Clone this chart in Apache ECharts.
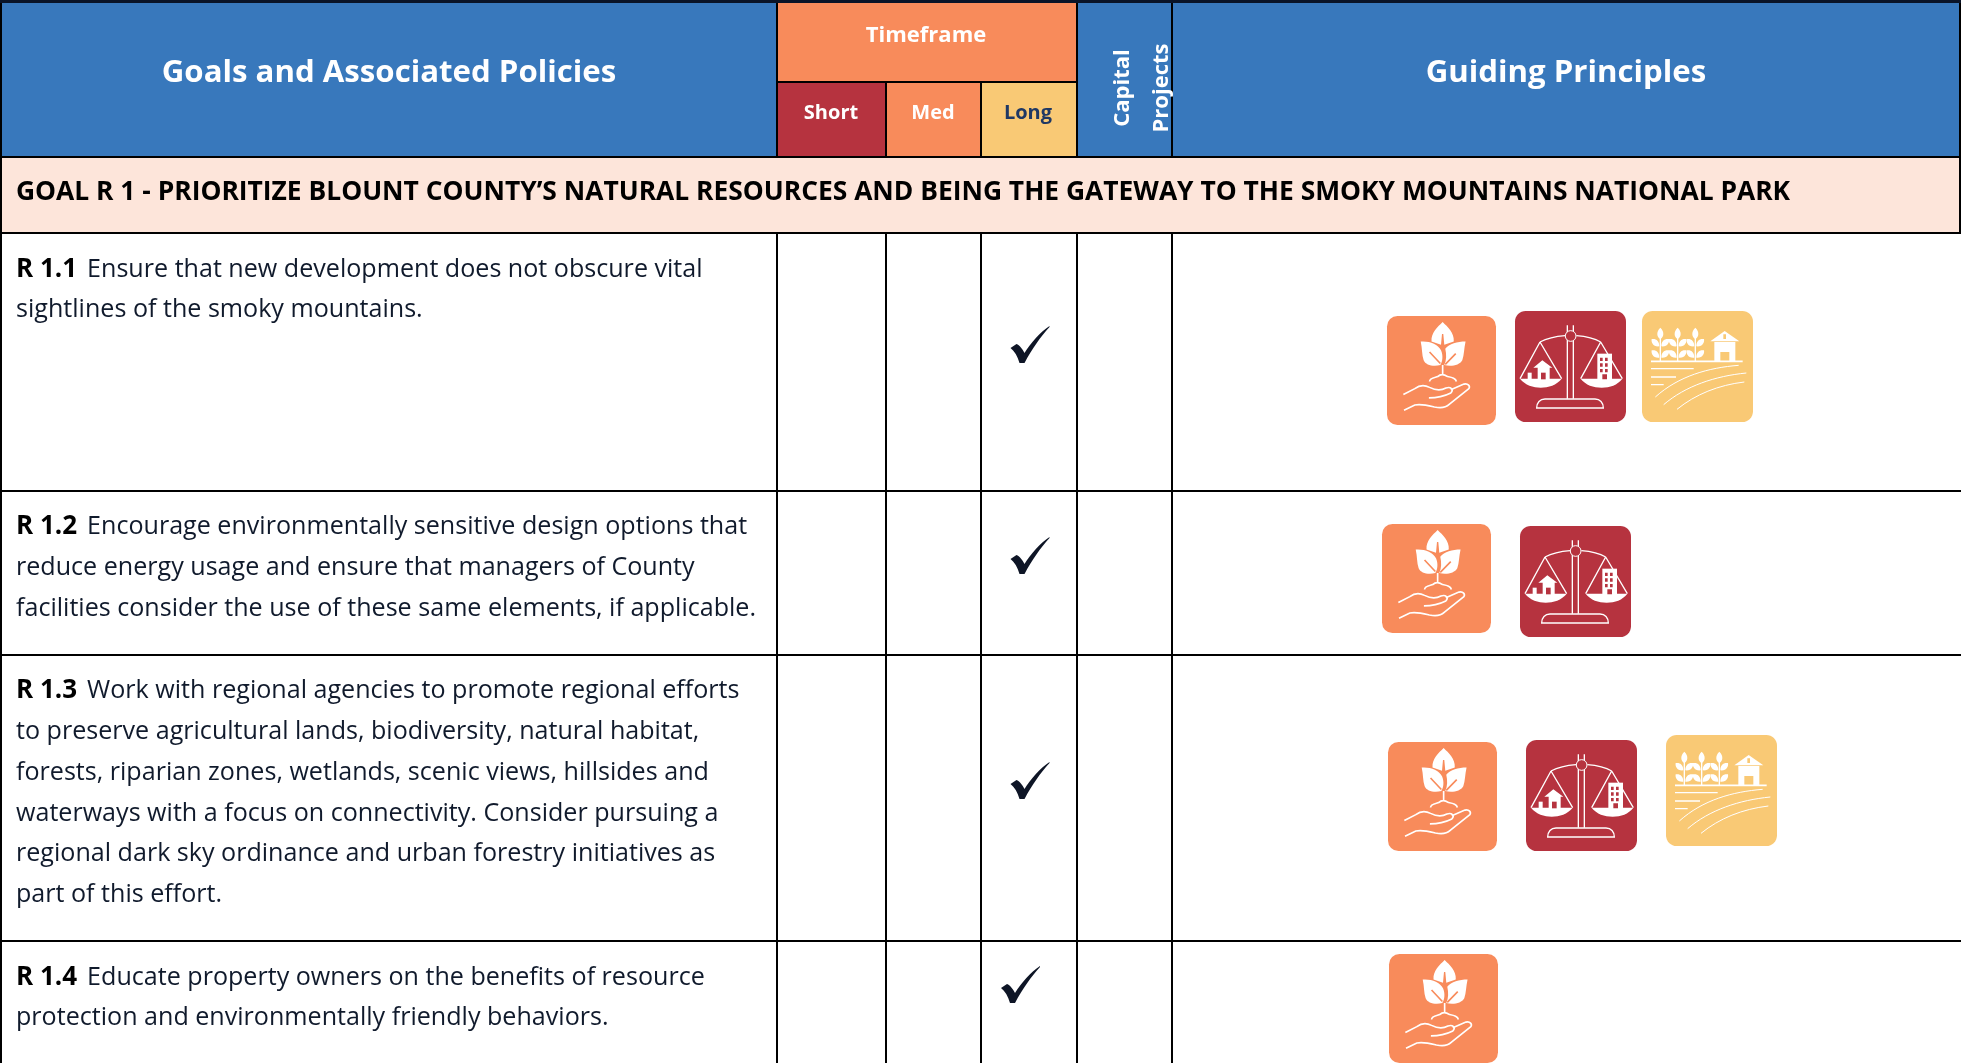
<!DOCTYPE html>
<html lang="en">
<head>
    <meta charset="UTF-8">
    <title>Goals and Associated Policies</title>
    <style>
        html, body { margin: 0; padding: 0; width: 100%; height: 100%; background: #fff; }
        #main { width: 1961px; height: 1063px; }
    </style>
</head>
<body>
    <div id="main"></div>
    <script src="https://cdn.jsdelivr.net/npm/echarts@6/dist/echarts.min.js"></script>
    <script>
        // table content
        var headerLeft = 'Goals and Associated Policies';
        var headerRight = 'Guiding Principles';
        var timeframeTitle = 'Timeframe';
        var timeframes = ['Short', 'Med', 'Long'];
        var capitalTitle = ['Capital', 'Projects'];
        var goalTitle = 'GOAL R 1 - PRIORITIZE BLOUNT COUNTY\u2019S NATURAL RESOURCES AND BEING THE GATEWAY TO THE SMOKY MOUNTAINS NATIONAL PARK';
        var policyLabels = ['R 1.1', 'R 1.2', 'R 1.3', 'R 1.4'];
        var policyLines = [
            ['Ensure that new development does not obscure vital', 'sightlines of the smoky mountains.'],
            ['Encourage environmentally sensitive design options that', 'reduce energy usage and ensure that managers of County', 'facilities consider the use of these same elements, if applicable.'],
            ['Work with regional agencies to promote regional efforts', 'to preserve agricultural lands, biodiversity, natural habitat,', 'forests, riparian zones, wetlands, scenic views, hillsides and', 'waterways with a focus on connectivity. Consider pursuing a', 'regional dark sky ordinance and urban forestry initiatives as', 'part of this effort.']
        ];
        policyLines.push(['Educate property owners on the benefits of resource', 'protection and environmentally friendly behaviors.']);
        var policyTimeframe = ['Long', 'Long', 'Long', 'Long'];
        var policyPrinciples = [
            ['environment', 'balance', 'rural'],
            ['environment', 'balance'],
            ['environment', 'balance', 'rural'],
            ['environment']
        ];

        // layout (px)
        var W = 1961, H = 1063;
        var colX = [2, 777, 886, 981, 1077, 1172, 1961];
        var rowY = [3, 157, 233, 491, 655, 941, 1063];
        var subHeaderY = 82;
        var lineStep = 40.8;
        var policyTextY = [269.5, 527, 691, 977.5];
        var checkPos = [[1010.5, 326], [1010.5, 537], [1010.5, 762], [1001, 966]];
        var iconPos = [
            [[1387, 316], [1515, 311], [1642, 311]],
            [[1382, 524], [1520, 526]],
            [[1388, 742], [1526, 740], [1666, 735]],
            [[1389, 954]]
        ];

        var BLUE = '#3878BC', ORANGE = '#F88B5B', RED = '#B6333F', YELLOW = '#F9C975', PEACH = '#FDE5DA';
        var FONT = '"Open Sans", "Noto Sans", sans-serif';
        var principleColor = { environment: ORANGE, balance: RED, rural: YELLOW };

        var fills = [
            [0, 0, W, 3, '#0A1428'],
            [colX[0], rowY[0], colX[1], rowY[1], BLUE],
            [colX[1], rowY[0], colX[4], subHeaderY, ORANGE],
            [colX[1], subHeaderY, colX[2], rowY[1], RED],
            [colX[2], subHeaderY, colX[3], rowY[1], ORANGE],
            [colX[3], subHeaderY, colX[4], rowY[1], YELLOW],
            [colX[4], rowY[0], colX[6], rowY[1], BLUE],
            [colX[0], rowY[1], W, rowY[2], PEACH]
        ];

        var rules = [
            [1, 3, 1, H], [W - 1, 3, W - 1, 234],
            [colX[1], 3, colX[1], 157], [colX[4], 3, colX[4], 157], [colX[5], 3, colX[5], 157],
            [colX[2], subHeaderY, colX[2], 157], [colX[3], subHeaderY, colX[3], 157],
            [colX[1], subHeaderY, colX[4], subHeaderY],
            [0, rowY[1], W, rowY[1]], [0, rowY[2], W, rowY[2]],
            [0, rowY[3], W, rowY[3]], [0, rowY[4], W, rowY[4]], [0, rowY[5], W, rowY[5]]
        ];
        [1, 2, 3, 4, 5].forEach(function (c) {
            rules.push([colX[c], rowY[2], colX[c], H]);
        });

        // text items: x, y, text, style key
        var texts = [
            [389, 73.5, headerLeft, 'head'],
            [1566, 73.5, headerRight, 'head'],
            [926, 36, timeframeTitle, 'sub'],
            [831, 113, timeframes[0], 'small'],
            [933, 113, timeframes[1], 'small'],
            [1028, 113, timeframes[2], 'smallDark'],
            [1123, 88, capitalTitle[0], 'rot'],
            [1162, 88, capitalTitle[1], 'rot']
        ];

        function leafIcon() {
            return [
                ['M170 18C155 33 134 50 136 78L165 88L168 55L172 55L175 88L204 78C206 50 185 33 170 18Z', 1],
                ['M103 78C130 76 155 85 165 105C172 120 170 140 163 150C140 155 118 150 112 135C106 118 108 100 103 78Z', 1],
                ['M240 78C215 78 190 85 178 100C182 118 182 135 175 150C198 155 222 150 230 135C236 118 235 100 240 78Z', 1],
                ['M130 110L163 145M210 115L178 148', 0, ORANGE, 5],
                ['M170 150L170 178M130 200C130 188 150 188 155 185C165 175 175 178 185 185C200 188 210 190 212 200', 0, '#fff', 5],
                ['M50 240L85 222C100 210 115 210 130 218C150 228 165 228 180 220C195 215 205 225 195 235C185 240 160 250 128 250', 0, '#fff', 5],
                ['M195 225L235 208C248 205 255 215 250 222L190 270C180 280 165 282 145 278C120 272 105 268 85 272L52 288', 0, '#fff', 5]
            ];
        }
        function scaleIcon() {
            return [
                ['M157 43L157 263M175 43L175 263', 0],
                ['M75 93C100 80 125 76 150 74M184 74C210 76 235 80 257 93', 0],
                ['M75 93L15 203M75 93L140 203M257 93L197 203M257 93L322 203', 0],
                ['M15 203L140 203C125 222 100 230 77 230C55 230 30 222 15 203Z', 1],
                ['M197 203L322 203C307 222 285 230 260 230C235 230 212 222 197 203Z', 1],
                ['M167 59A16 16 0 1 1 166.9 59Z', 2, RED, 3],
                ['M55 170L82 148L112 170L104 170L104 205L68 205L68 170Z', 1],
                ['M78 185L92 185L92 205L78 205Z', 2, RED],
                ['M247 128L291 128L291 205L247 205Z', 1],
                ['M255 140H263V150H255ZM270 140H278V150H270ZM255 157H263V167H255ZM270 157H278V167H270ZM255 174H263V184H255ZM270 174H278V184H270ZM262 190H276V205H262Z', 2, RED],
                ['M38 185H50V205H38Z', 1],
                ['M65 291C65 275 75 264 90 264L240 264C255 264 265 275 265 291Z', 0]
            ];
        }
        function farmIcon() {
            var parts = [];
            [55, 107, 160].forEach(function (x) {
                var p = 'M' + x + ' 50C' + (x - 13) + ' 62 ' + (x - 11) + ' 78 ' + x + ' 84C' + (x + 11) + ' 78 ' + (x + 13) + ' 62 ' + x + ' 50Z';
                [90, 124].forEach(function (y) {
                    p += 'M' + (x - 3) + ' ' + (y + 16) + 'C' + (x - 22) + ' ' + (y + 18) + ' ' + (x - 28) + ' ' + (y + 4) + ' ' + (x - 26) + ' ' + (y - 6) + 'C' + (x - 12) + ' ' + (y - 8) + ' ' + (x - 3) + ' ' + y + ' ' + (x - 3) + ' ' + (y + 16) + 'Z';
                    p += 'M' + (x + 3) + ' ' + (y + 16) + 'C' + (x + 22) + ' ' + (y + 18) + ' ' + (x + 28) + ' ' + (y + 4) + ' ' + (x + 26) + ' ' + (y - 6) + 'C' + (x + 12) + ' ' + (y - 8) + ' ' + (x + 3) + ' ' + y + ' ' + (x + 3) + ' ' + (y + 16) + 'Z';
                });
                parts.push([p, 1]);
                parts.push(['M' + x + ' 80L' + x + ' 150', 0]);
            });
            parts.push(['M205 91L248 60L292 91Z', 1]);
            parts.push(['M217 93H280V151H217Z', 1]);
            parts.push(['M235 123H262V151H235ZM244 70H252V84H244Z', 2, YELLOW]);
            parts.push(['M27 151H302', 0, '#fff', 5]);
            parts.push(['M27 173H155M27 198H102M27 221H65', 0, '#fff', 4]);
            parts.push(['M40 258C110 195 200 170 290 163M65 281C130 225 220 195 313 186M105 295C160 250 230 222 307 213', 0, '#fff', 3]);
            return parts;
        }
        var iconParts = { environment: leafIcon(), balance: scaleIcon(), rural: farmIcon() };
        var iconSize = { environment: 109, balance: 111, rural: 111 };

        function textEl(api, t) {
            var c = api.coord([t[0], t[1]]);
            var key = t[3];
            var st = {
                head: { font: '700 31.2px ' + FONT, fill: '#fff' },
                sub: { font: '700 22px ' + FONT, fill: '#fff' },
                small: { font: '700 20px ' + FONT, fill: '#fff' },
                smallDark: { font: '700 20px ' + FONT, fill: '#1F3864' },
                rot: { font: '700 22px ' + FONT, fill: '#fff' }
            }[key];
            return {
                type: 'text', x: c[0], y: c[1],
                rotation: key === 'rot' ? Math.PI / 2 : 0,
                style: { text: t[2], x: 0, y: 0, font: st.font, fill: st.fill, align: 'center', verticalAlign: 'middle' }
            };
        }

        function richLine(api, x, y, label, body) {
            var c = api.coord([x, y]);
            return {
                type: 'text', x: c[0], y: c[1],
                style: {
                    text: (label ? '{b|' + label + '}{n| }' : '') + '{n|' + body + '}',
                    x: 0, y: 0, verticalAlign: 'middle', align: 'left',
                    rich: {
                        b: { font: '700 26px ' + FONT, fill: '#000', padding: [0, 3.5, 0, 0] },
                        n: { font: '400 25.1px ' + FONT, fill: '#101A2C' }
                    }
                }
            };
        }

        var option = {
            animation: false,
            backgroundColor: '#fff',
            grid: { left: 0, right: 0, top: 0, bottom: 0 },
            xAxis: { type: 'value', min: 0, max: W, show: false },
            yAxis: { type: 'value', min: 0, max: H, inverse: true, show: false },
            series: [
                {
                    type: 'custom', coordinateSystem: 'cartesian2d', silent: true, clip: true,
                    data: fills,
                    renderItem: function (params, api) {
                        var f = fills[params.dataIndex];
                        var a = api.coord([f[0], f[1]]), b = api.coord([f[2], f[3]]);
                        return { type: 'rect', shape: { x: a[0], y: a[1], width: b[0] - a[0], height: b[1] - a[1] }, style: { fill: f[4] } };
                    }
                },
                {
                    type: 'custom', coordinateSystem: 'cartesian2d', silent: true, clip: true,
                    data: rules,
                    renderItem: function (params, api) {
                        var r = rules[params.dataIndex];
                        var a = api.coord([r[0], r[1]]), b = api.coord([r[2], r[3]]);
                        return { type: 'line', shape: { x1: a[0], y1: a[1], x2: b[0], y2: b[1] }, style: { stroke: '#000', lineWidth: 2 } };
                    }
                },
                {
                    type: 'custom', coordinateSystem: 'cartesian2d', silent: true,
                    data: texts,
                    renderItem: function (params, api) {
                        return textEl(api, texts[params.dataIndex]);
                    }
                },
                {
                    type: 'custom', coordinateSystem: 'cartesian2d', silent: true,
                    data: [goalTitle],
                    renderItem: function (params, api) {
                        var c = api.coord([16, 192.5]);
                        return { type: 'text', x: c[0], y: c[1], style: { text: goalTitle, x: 0, y: 0, font: '700 26.4px ' + FONT, fill: '#000', verticalAlign: 'middle' } };
                    }
                },
                {
                    type: 'custom', coordinateSystem: 'cartesian2d', silent: true,
                    data: policyLabels,
                    renderItem: function (params, api) {
                        var i = params.dataIndex;
                        var kids = policyLines[i].map(function (line, k) {
                            return richLine(api, 16, policyTextY[i] + k * lineStep, k === 0 ? policyLabels[i] : '', line);
                        });
                        return { type: 'group', children: kids };
                    }
                },
                {
                    type: 'custom', coordinateSystem: 'cartesian2d', silent: true,
                    data: policyTimeframe,
                    renderItem: function (params, api) {
                        var p = api.coord(checkPos[params.dataIndex]);
                        return {
                            type: 'path', x: p[0], y: p[1],
                            shape: { pathData: 'M0 22L6 18C9 19 12 23 14 27C20 17 30 6 39 0L39 1C30 11 22 22 14 37L9 37C7 30 4 25 0 22Z' },
                            style: { fill: '#0E1526' }
                        };
                    }
                },
                {
                    type: 'custom', coordinateSystem: 'cartesian2d', silent: true, clip: true,
                    data: policyPrinciples,
                    renderItem: function (params, api) {
                        var i = params.dataIndex;
                        var groups = [];
                        policyPrinciples[i].forEach(function (name, k) {
                            var p = api.coord(iconPos[i][k]);
                            var s = iconSize[name];
                            var u = s / 333;
                            var kids = [{ type: 'rect', shape: { x: 0, y: 0, width: 333, height: 333, r: 32 }, style: { fill: principleColor[name] } }];
                            iconParts[name].forEach(function (part) {
                                var mode = part[1];
                                kids.push({
                                    type: 'path', shape: { pathData: part[0] },
                                    style: mode === 0
                                        ? { fill: null, stroke: part[2] || '#fff', lineWidth: part[3] || 4 }
                                        : mode === 1
                                            ? { fill: '#fff' }
                                            : { fill: part[2], stroke: part[3] ? '#fff' : null, lineWidth: part[3] || 0 }
                                });
                            });
                            groups.push({ type: 'group', x: p[0], y: p[1], scaleX: u, scaleY: u, children: kids });
                        });
                        return { type: 'group', children: groups };
                    }
                }
            ]
        };

        var myChart = echarts.init(document.getElementById('main'));
        myChart.setOption(option);
    </script>
</body>
</html>
